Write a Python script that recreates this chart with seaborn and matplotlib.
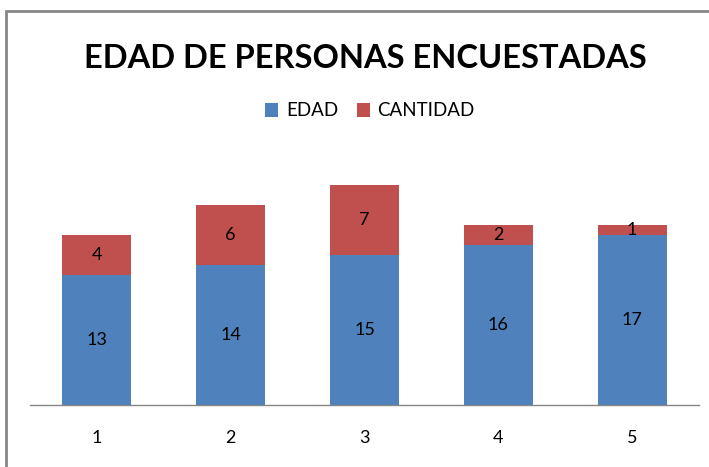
import numpy as np
import pandas as pd
import seaborn as sns
import matplotlib.pyplot as plt
from matplotlib.patches import Rectangle

categorias = ["1", "2", "3", "4", "5"]
edad = [13, 14, 15, 16, 17]
cantidad = [4, 6, 7, 2, 1]

azul = "#4F81BD"
rojo = "#C0504D"

sns.set_theme(style="white")
plt.rcParams['font.family'] = ['Lato', 'DejaVu Sans']

df = pd.DataFrame({"cat": categorias, "edad": edad, "cantidad": cantidad})

fig = plt.figure(figsize=(7.09, 4.67), dpi=100)
W, H = 709, 467
ax = fig.add_axes([30 / W, 62 / H, 669 / W, 250 / H])

sns.barplot(data=df, x="cat", y="edad", color=azul, width=0.515, ax=ax,
            saturation=1, label="EDAD", linewidth=0)
sns.barplot(data=df, x="cat", y="cantidad", bottom=df["edad"], color=rojo,
            width=0.515, ax=ax, saturation=1, label="CANTIDAD", linewidth=0)

# etiquetas dentro de las barras
for i, (e, c) in enumerate(zip(edad, cantidad)):
    ax.text(i, e / 2, str(e), ha="center", va="center", fontsize=13, color="black")
    ax.text(i, e + c / 2, str(c), ha="center", va="center", fontsize=13, color="black")

ax.set_ylim(0, 25)
ax.set_xlim(-0.5, 4.5)
ax.set_xlabel("")
ax.set_ylabel("")
ax.set_yticks([])
for s in ["top", "right", "left"]:
    ax.spines[s].set_visible(False)
ax.spines["bottom"].set_color("#868686")
ax.spines["bottom"].set_linewidth(1)
ax.tick_params(axis="x", length=0, labelsize=13, pad=18, labelcolor="black")

ax.legend(loc="center", bbox_to_anchor=(370 / W, (H - 111) / H),
          bbox_transform=fig.transFigure, ncol=2, frameon=False,
          fontsize=13.5, handlelength=0.7, handleheight=0.7, columnspacing=1.0,
          handletextpad=0.4, labelcolor="black")

fig.text(365 / W, (H - 58) / H, "EDAD DE PERSONAS ENCUESTADAS", ha="center",
         va="center", fontsize=23.5, fontweight="bold", color="black")

# marco del grafico
fig.patches.append(Rectangle((6 / W, -0.1), 1.1, (H - 11) / H + 0.1,
                             transform=fig.transFigure, fill=False,
                             edgecolor="#868686", linewidth=2))

fig.savefig("out.png", dpi=100)
